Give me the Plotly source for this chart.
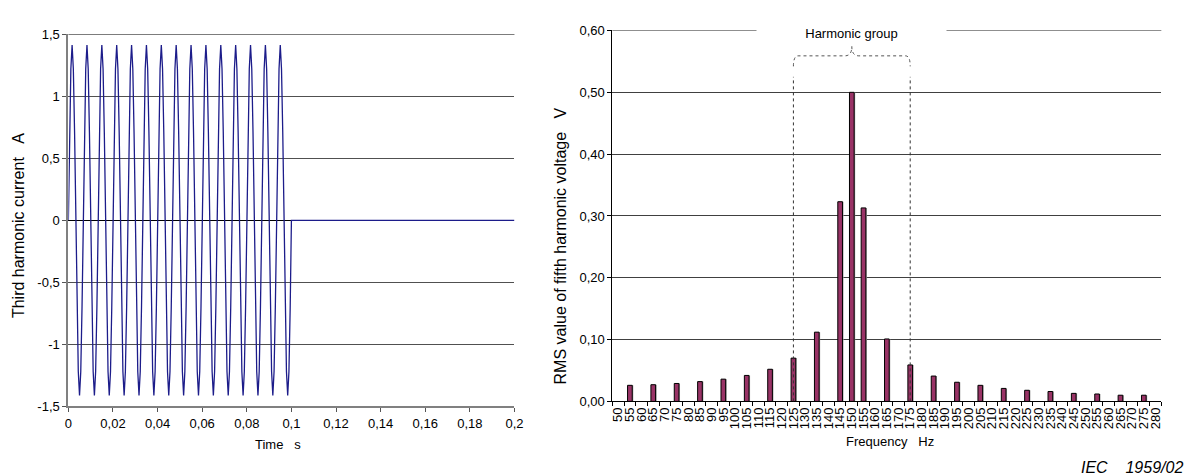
import numpy as np
import plotly.graph_objects as go

# ---------------- data ----------------
# Left chart: third harmonic current (150 Hz), one cycle of samples (A), repeated 15 cycles up to 0.1 s
cycle_samples = [0.0, 0.71, 1.22, 1.414, 1.22, 0.71, 0.0, -0.71, -1.22, -1.414, -1.22, -0.71]
n_cycles = 15
sample_interval = 1.0 / 1800.0          # s
off_end_time = 0.2                      # s, signal stays at zero afterwards

time_ticks = [0, 0.02, 0.04, 0.06, 0.08, 0.1, 0.12, 0.14, 0.16, 0.18, 0.2]
time_labels = ["0", "0,02", "0,04", "0,06", "0,08", "0,1", "0,12", "0,14", "0,16", "0,18", "0,2"]
current_ticks = [-1.5, -1, -0.5, 0, 0.5, 1, 1.5]
current_labels = ["-1,5", "-1", "-0,5", "0", "0,5", "1", "1,5"]

# Right chart: RMS value of fifth harmonic voltage per frequency bin
freq_categories = list(range(50, 285, 5))
bar_freqs = [55, 65, 75, 85, 95, 105, 115, 125, 135, 145, 150, 155, 165, 175,
             185, 195, 205, 215, 225, 235, 245, 255, 265, 275]
bar_values = [0.026, 0.027, 0.029, 0.032, 0.036, 0.042, 0.052, 0.070, 0.112, 0.323, 0.500, 0.313, 0.101, 0.059,
              0.041, 0.031, 0.026, 0.021, 0.018, 0.016, 0.013, 0.012, 0.010, 0.010]
volt_ticks = [0, 0.1, 0.2, 0.3, 0.4, 0.5, 0.6]
volt_labels = ["0,00", "0,10", "0,20", "0,30", "0,40", "0,50", "0,60"]
group_edges = [125, 175]
group_centre = 150

# ---------------- build series ----------------
wave_vals = list(np.tile(cycle_samples, n_cycles)) + [0.0, 0.0]
wave_t = list(np.arange(len(cycle_samples) * n_cycles + 1) * sample_interval) + [off_end_time]

W, H = 1192, 475
FONT = "Liberation Sans, Arial, sans-serif"

def px_x(p):
    return p / W

def px_y(p):
    return 1 - p / H

fig = go.Figure()

fig.add_trace(go.Scatter(
    x=wave_t, y=wave_vals, mode="lines",
    line=dict(color="#1c1c8a", width=1.3),
    xaxis="x", yaxis="y", showlegend=False, hoverinfo="skip"))

# bar shadow
fig.add_trace(go.Bar(
    x=bar_freqs, y=bar_values, width=2.0, offset=-0.55,
    marker=dict(color="#a0a0a0", line=dict(width=0)),
    xaxis="x2", yaxis="y2", showlegend=False, hoverinfo="skip"))
fig.add_trace(go.Bar(
    x=bar_freqs, y=bar_values, width=2.0, offset=-1.0,
    marker=dict(color="#993366", line=dict(color="#000000", width=1)),
    xaxis="x2", yaxis="y2", showlegend=False))

tickfont = dict(family=FONT, size=13, color="#000000")

fig.update_layout(
    width=W, height=H,
    margin=dict(l=0, r=0, t=0, b=0),
    paper_bgcolor="white", plot_bgcolor="white",
    barmode="overlay",
    showlegend=False,
    font=dict(family=FONT, size=13, color="#000000"),
    xaxis=dict(
        domain=[px_x(57), px_x(508)], anchor="y",
        range=[0, 0.2], tickmode="array", tickvals=time_ticks, ticktext=time_labels,
        ticks="outside", ticklen=4, tickcolor="#555555",
        showline=True, linecolor="#808080", linewidth=2,
        showgrid=False, zeroline=False, tickfont=tickfont),
    yaxis=dict(
        domain=[px_y(404), px_y(20)], anchor="x",
        range=[-1.5, 1.5], tickmode="array", tickvals=current_ticks, ticktext=current_labels,
        ticks="outside", ticklen=4, tickcolor="#555555",
        showline=True, linecolor="#808080", linewidth=2,
        showgrid=True, gridcolor="#505050", gridwidth=1.2,
        zeroline=True, zerolinecolor="#000000", zerolinewidth=1.2,
        tickfont=tickfont),
    xaxis2=dict(
        domain=[px_x(607), px_x(1162)], anchor="y2",
        range=[47.5, 282.5], tickmode="array", tickvals=freq_categories,
        ticktext=[str(f) for f in freq_categories], tickangle=-90,
        ticks="", showline=True, linecolor="#000000", linewidth=1,
        minor=dict(tickmode="linear", tick0=47.5, dtick=5, ticks="outside", ticklen=4, tickcolor="#000000", showgrid=False),
        showgrid=False, zeroline=False, tickfont=tickfont),
    yaxis2=dict(
        domain=[px_y(399), px_y(16)], anchor="x2",
        range=[0, 0.6], tickmode="array", tickvals=volt_ticks, ticktext=volt_labels,
        ticks="outside", ticklen=4, tickcolor="#000000",
        showline=True, linecolor="#000000", linewidth=1,
        showgrid=True, gridcolor="#404040", gridwidth=1.2,
        zeroline=False, tickfont=tickfont),
)

# top gridlines (plotly omits gridlines at the range edge)
fig.add_shape(type="line", xref="x domain", yref="y", x0=0, x1=1, y0=current_ticks[-1], y1=current_ticks[-1],
              line=dict(color="#505050", width=1.2), layer="below")
fig.add_shape(type="line", xref="x2 domain", yref="y2", x0=0, x1=1, y0=volt_ticks[-1], y1=volt_ticks[-1],
              line=dict(color="#202020", width=1.2), layer="below")

# harmonic group bracket
for fx in group_edges:
    fig.add_shape(type="line", xref="x2", yref="y2", x0=fx, x1=fx, y0=0.0, y1=0.525,
                  line=dict(color="#333333", width=1, dash="dot"))
l, r, c = group_edges[0], group_edges[1], group_centre
brace = (f"M {l},0.542 Q {l},0.559 {l+2},0.559 L {c-3},0.559 Q {c},0.559 {c},0.574 "
         f"Q {c},0.559 {c+3},0.559 L {r-2},0.559 Q {r},0.559 {r},0.542")
fig.add_shape(type="path", xref="x2", yref="y2", path=brace,
              line=dict(color="#555555", width=1, dash="dot"))

sp = "\u00a0\u00a0\u00a0"
ann = [
    dict(text="Harmonic" + "\u00a0" + "group", xref="x2", yref="paper", x=group_centre, y=px_y(19),
         xanchor="center", yanchor="middle", showarrow=False, bgcolor="white", width=187, height=18,
         font=dict(family=FONT, size=13)),
    dict(text="Third harmonic current" + sp + "A", xref="paper", yref="paper", x=px_x(6), y=px_y(217),
         xanchor="center", yanchor="middle", textangle=-90, showarrow=False, font=dict(family=FONT, size=16)),
    dict(text="RMS value of fifth harmonic voltage" + sp + "V", xref="paper", yref="paper", x=px_x(555), y=px_y(238),
         xanchor="center", yanchor="middle", textangle=-90, showarrow=False, font=dict(family=FONT, size=16)),
    dict(text="Time" + sp + "s", xref="paper", yref="paper", x=px_x(269), y=px_y(443),
         xanchor="center", yanchor="middle", showarrow=False, font=dict(family=FONT, size=13)),
    dict(text="Frequency" + sp + "Hz", xref="paper", yref="paper", x=px_x(888), y=px_y(440),
         xanchor="center", yanchor="middle", showarrow=False, font=dict(family=FONT, size=13)),
    dict(text="<i>IEC" + "\u00a0\u00a0\u00a0\u00a0" + "1959/02</i>", xref="paper", yref="paper", x=px_x(1186), y=px_y(467),
         xanchor="right", yanchor="middle", showarrow=False, font=dict(family=FONT, size=16)),
]
fig.update_layout(annotations=ann)

fig.write_html("out.html")
